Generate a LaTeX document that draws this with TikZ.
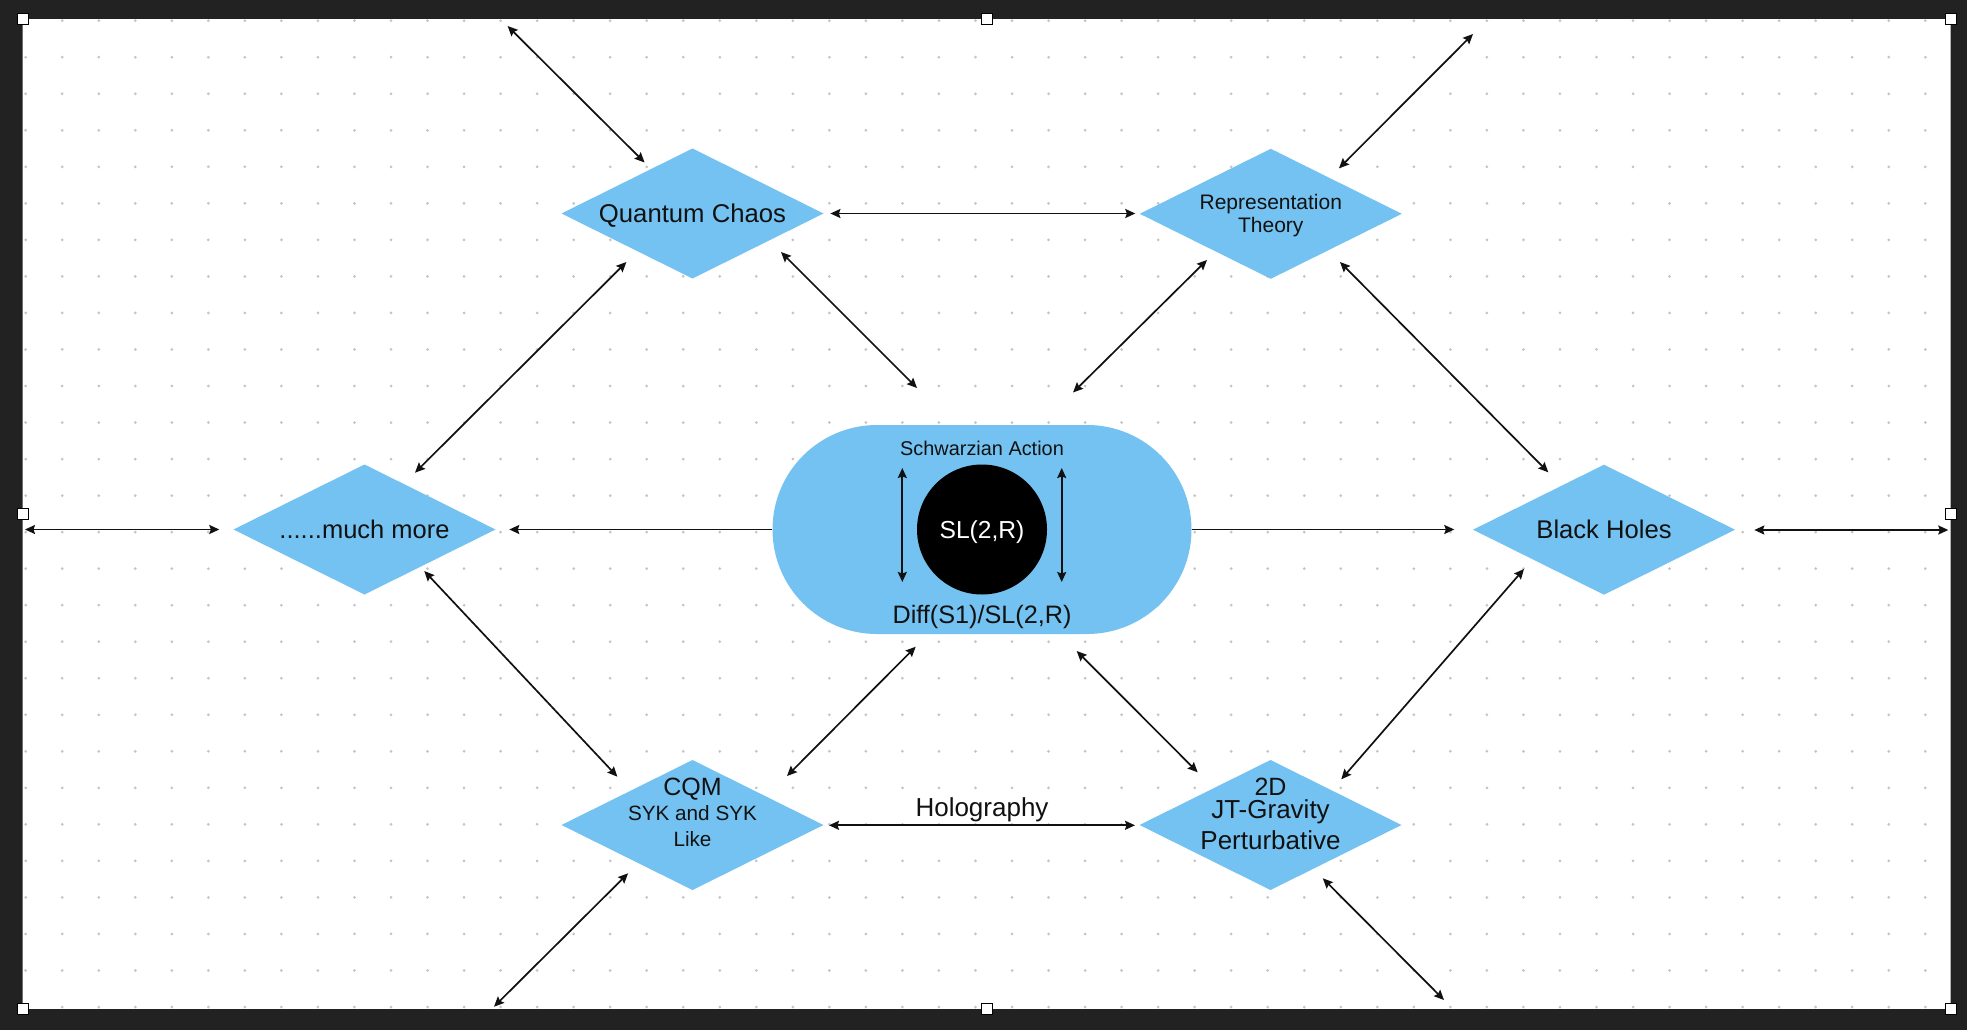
\documentclass[tikz,border=0pt]{standalone}
\usepackage{fontspec}
\setmainfont{Liberation Sans}
\usetikzlibrary{arrows.meta,shapes.geometric}
\definecolor{framegray}{RGB}{34,34,34}
\definecolor{nodeblue}{RGB}{116,194,241}
\definecolor{dotgray}{RGB}{196,196,196}
\definecolor{ink}{RGB}{17,17,17}
\begin{document}
\begin{tikzpicture}[x=1pt,y=-1pt,
  diam/.style={diamond,fill=nodeblue,draw=none,minimum width=262pt,minimum height=130pt,inner sep=0pt,outer sep=0pt},
  lbl/.style={anchor=base,inner sep=0pt,outer sep=0pt,text=ink},
  tip/.tip={Stealth[length=10pt,width=9pt,inset=1.5pt]},
  link/.style={draw=ink,line width=1.7pt,tip-tip},
  onelink/.style={draw=ink,line width=1.7pt,-tip},
  handlebox/.style={draw=black,fill=white,line width=1.2pt,minimum size=11pt,inner sep=0pt}
]
\useasboundingbox (0,0) rectangle (1967,1030);
% canvas
\fill[white] (22.7,19) rectangle (1950.7,1009);
\foreach \i in {0,...,52}{
  \foreach \j in {0,...,27}{
    \fill[dotgray] (25.7+36.53*\i,20.7+36.53*\j) circle (1.5pt);
  }
}
\fill[framegray,even odd rule] (0,0) rectangle (1967,1030) (22.7,19) rectangle (1950.7,1009);

% central stadium
\node[rectangle,rounded corners=104.5pt,fill=nodeblue,minimum width=419pt,minimum height=209pt,inner sep=0pt] (core) at (982,529.5) {};
\node[circle,fill=black,minimum size=130pt,inner sep=0pt] (sl) at (982,529.5) {};
\node[lbl,font=\fontsize{19.9pt}{24pt}\selectfont] (sch) at (982,455) {Schwarzian Action};
\node[lbl,text=white,font=\fontsize{24.6pt}{29pt}\selectfont] (slt) at (982,538) {SL(2,R)};
\node[lbl,font=\fontsize{25.2pt}{30pt}\selectfont] (dif) at (982,623.5) {Diff(S1)/SL(2,R)};

% diamonds
\node[diam] (qc) at (692.5,213.5) {};
\node[diam] (rt) at (1270.8,213.8) {};
\node[diam] (mm) at (364.5,529.5) {};
\node[diam] (bh) at (1604,529.7) {};
\node[diam] (cqm) at (692.5,825) {};
\node[diam] (td) at (1270.5,825) {};

\node[lbl,font=\fontsize{25.7pt}{30pt}\selectfont] (qct) at (692.5,222.5) {Quantum Chaos};
\node[lbl,font=\fontsize{21pt}{25pt}\selectfont] (rt1) at (1270.8,209.3) {Representation};
\node[lbl,font=\fontsize{21pt}{25pt}\selectfont] (rt2) at (1270.8,232.3) {Theory};
\node[lbl,font=\fontsize{25.5pt}{30pt}\selectfont] (mmt) at (364.5,538.3) {......much more};
\node[lbl,font=\fontsize{25.6pt}{30pt}\selectfont] (bht) at (1604,538.5) {Black Holes};
\node[lbl,font=\fontsize{25pt}{30pt}\selectfont] (cqm1) at (692.5,795) {CQM};
\node[lbl,font=\fontsize{20.7pt}{25pt}\selectfont] (cqm2) at (692.5,820) {SYK and SYK};
\node[lbl,font=\fontsize{20.7pt}{25pt}\selectfont] (cqm3) at (692.5,846) {Like};
\node[lbl,font=\fontsize{25pt}{30pt}\selectfont] (td1) at (1270.5,795) {2D};
\node[lbl,font=\fontsize{26pt}{30pt}\selectfont] (td2) at (1270.5,818.7) {JT-Gravity};
\node[lbl,font=\fontsize{26pt}{30pt}\selectfont] (td3) at (1270.5,849) {Perturbative};
\node[lbl,font=\fontsize{26pt}{30pt}\selectfont] (hol) at (982,816) {Holography};

% connector end points
\coordinate (a1) at (507.6,26);    \coordinate (b1) at (644.6,162.5);
\coordinate (a2) at (830.4,213.5); \coordinate (b2) at (1135.3,213.5);
\coordinate (a3) at (1473,34);     \coordinate (b3) at (1339,168.3);
\coordinate (a4) at (781,252);     \coordinate (b4) at (917,388);
\coordinate (a5) at (1207,260);    \coordinate (b5) at (1073,392.5);
\coordinate (a6) at (626.4,262);   \coordinate (b6) at (415,472.7);
\coordinate (a7) at (1340,262);    \coordinate (b7) at (1548.3,472.3);
\coordinate (a8) at (25,529.5);    \coordinate (b8) at (219.3,529.5);
\coordinate (b9) at (509.3,529.5);
\coordinate (b10) at (1454.3,529.5);
\coordinate (a11) at (1754.3,530); \coordinate (b11) at (1948.3,530);
\coordinate (a12) at (424.3,571);  \coordinate (b12) at (617.4,776.7);
\coordinate (a13) at (915.7,646.7);\coordinate (b13) at (787,776);
\coordinate (a14) at (1076.7,651); \coordinate (b14) at (1197.7,772.3);
\coordinate (a15) at (1524,569);   \coordinate (b15) at (1341.3,779.3);
\coordinate (a16) at (829,825.3);  \coordinate (b16) at (1135,825.3);
\coordinate (a17) at (628.1,873.3);\coordinate (b17) at (494,1006.7);
\coordinate (a18) at (1322.8,878.3);\coordinate (b18) at (1444,1000);
\coordinate (v1a) at (902.3,468);  \coordinate (v1b) at (902.3,582);
\coordinate (v2a) at (1061.7,468); \coordinate (v2b) at (1061.7,582);

\foreach \n in {1,...,8,11,12,13,14,15,16,17,18}{
  \draw[link] (a\n) -- (b\n);
}
\draw[onelink] (core.west) -- (b9);
\draw[onelink] (core.east) -- (b10);
\draw[link] (v1a) -- (v1b);
\draw[link] (v2a) -- (v2b);

% selection handles
\node[handlebox] (h1) at (23,19) {};
\node[handlebox] (h2) at (987,19) {};
\node[handlebox] (h3) at (1951,19) {};
\node[handlebox] (h4) at (23,514) {};
\node[handlebox] (h5) at (1951,514) {};
\node[handlebox] (h6) at (23,1009) {};
\node[handlebox] (h7) at (987,1009) {};
\node[handlebox] (h8) at (1951,1009) {};
\end{tikzpicture}
\end{document}
